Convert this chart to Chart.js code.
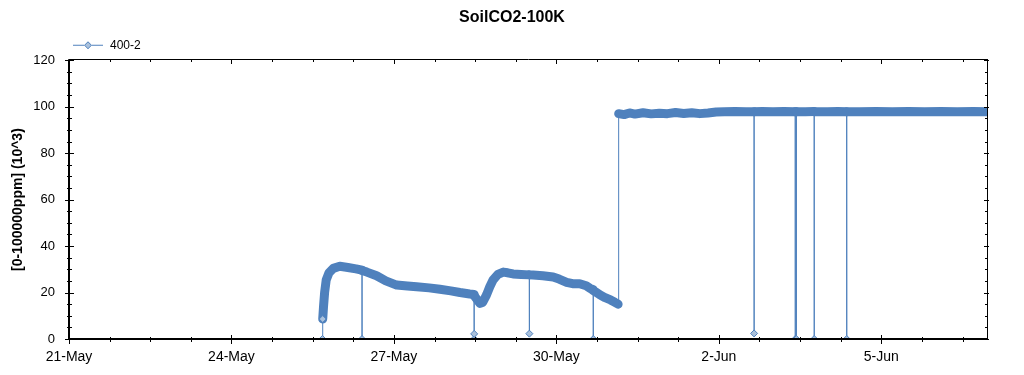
<!DOCTYPE html>
<html><head><meta charset="utf-8">
<script src="https://cdn.jsdelivr.net/npm/chart.js@4/dist/chart.umd.min.js"></script>
<style>html,body{margin:0;padding:0;background:#fff;}#wrap{width:1024px;height:375px;}</style>
</head><body><div id="wrap"><canvas id="c" width="1024" height="375"></canvas></div>
<script>
// ---- data ----
const chartTitle = 'SoilCO2-100K';
const seriesName = '400-2';
const yAxisTitle = '[0-100000ppm] (10^3)';
const xTickDays = [0, 3, 6, 9, 12, 15];            // days after 21-May
const xTickLabels = ['21-May', '24-May', '27-May', '30-May', '2-Jun', '5-Jun'];
const yTickValues = [0, 20, 40, 60, 80, 100, 120];
// time of each reading, in days after 21-May 00:00
const timeDays = [
  4.68, 4.685, 4.70, 4.72, 4.75, 4.80, 4.88, 5.00, 5.15, 5.30,
  5.41, 5.411, 5.412, 5.50, 5.68, 5.85, 6.05, 6.25, 6.42, 6.65,
  6.85, 7.05, 7.22, 7.40, 7.48, 7.481, 7.482, 7.483, 7.55, 7.59,
  7.64, 7.71, 7.77, 7.83, 7.92, 8.02, 8.10, 8.20, 8.35, 8.50,
  8.501, 8.502, 8.57, 8.75, 8.94, 9.05, 9.19, 9.30, 9.43, 9.55,
  9.62, 9.68, 9.681, 9.682, 9.72, 9.81, 9.90, 10.00, 10.08, 10.14,
  10.15, 10.25, 10.35, 10.45, 10.60, 10.75, 10.90, 11.05, 11.20, 11.35,
  11.50, 11.65, 11.80, 11.95, 12.10, 12.30, 12.50, 12.65, 12.651, 12.652,
  12.80, 13.00, 13.20, 13.41, 13.411, 13.412, 13.43, 13.431, 13.432, 13.60,
  13.76, 13.761, 13.762, 14.00, 14.20, 14.36, 14.361, 14.362, 14.60, 14.90,
  15.20, 15.50, 15.80, 16.10, 16.40, 16.70, 16.97
];
// CO2 reading, in 10^3 ppm
const co2Values = [
  0, 8.6, 14.0, 20.0, 25.5, 28.5, 30.4, 31.3, 30.8, 30.2,
  29.6, 0, 29.5, 28.8, 27.2, 25.0, 23.2, 22.8, 22.5, 22.0,
  21.4, 20.7, 20.0, 19.4, 19.2, 0, 2.2, 18.6, 16.5, 15.3,
  15.8, 19.0, 22.5, 25.4, 27.8, 28.8, 28.5, 28.0, 27.8, 27.6,
  2.3, 27.6, 27.5, 27.2, 26.7, 25.8, 24.4, 23.8, 23.8, 22.9,
  21.8, 21.2, 0, 20.8, 20.3, 18.9, 17.8, 16.8, 15.8, 15.0,
  97.0, 96.6, 97.3, 96.8, 97.4, 96.9, 97.2, 97.0, 97.5, 97.1,
  97.4, 97.0, 97.3, 97.7, 97.8, 97.9, 97.8, 97.8, 2.4, 97.8,
  97.9, 97.8, 97.9, 97.8, 0, 97.8, 97.8, 0, 97.8, 97.8,
  97.9, 0, 97.8, 97.8, 97.9, 97.8, 0, 97.8, 97.8, 97.9,
  97.8, 97.9, 97.8, 97.9, 97.8, 97.9, 97.8
];
const xMaxDays = 16.97;

// ---- style ----
const LINE = '#4f81bd';
const MARK = '#aac1dc';
const FONT = '"Liberation Sans", Arial, sans-serif';
Chart.defaults.font.family = FONT;
Chart.defaults.color = '#000';

// legend symbol: line with diamond
const lc = document.createElement('canvas');
lc.width = 30; lc.height = 9;
(function () {
  const g = lc.getContext('2d');
  g.strokeStyle = LINE; g.lineWidth = 1;
  g.beginPath(); g.moveTo(0, 4.5); g.lineTo(30, 4.5); g.stroke();
  g.beginPath(); g.moveTo(11.5, 4.5); g.lineTo(15, 1); g.lineTo(18.5, 4.5); g.lineTo(15, 8); g.closePath();
  g.fillStyle = MARK; g.fill(); g.stroke();
})();

const frame = {
  id: 'frame',
  beforeInit(chart) {
    const lg = chart.legend;
    if (lg) { const f = lg.fit; lg.fit = function () { f.call(this); this.height = 24; }; }
  },
  afterDraw(chart) {
    const {ctx, chartArea: a, scales: {x, y}} = chart;
    ctx.save();
    ctx.strokeStyle = '#000';
    ctx.lineWidth = 1;
    ctx.beginPath();
    ctx.moveTo(a.left, Math.round(a.top) - 0.5); ctx.lineTo(a.right, Math.round(a.top) - 0.5);
    ctx.moveTo(Math.round(a.right) - 0.5, a.top); ctx.lineTo(Math.round(a.right) - 0.5, a.bottom);
    ctx.stroke();
    ctx.lineWidth = 2;
    ctx.beginPath();
    ctx.moveTo(Math.round(a.left), a.top - 1); ctx.lineTo(Math.round(a.left), a.bottom + 1);
    ctx.moveTo(a.left - 1, Math.round(a.bottom)); ctx.lineTo(a.right, Math.round(a.bottom));
    ctx.stroke();
    ctx.lineWidth = 1;
    ctx.beginPath();
    for (let v = 0; v <= 120; v += 5) {
      const p = Math.round(y.getPixelForValue(v)) + 0.5;
      const major = v % 20 === 0;
      const L = Math.round(a.left), R = Math.round(a.right);
      if (major) { ctx.moveTo(L - 4, p); ctx.lineTo(L + 5, p); ctx.moveTo(R - 4, p); ctx.lineTo(R + 1, p); }
      else { ctx.moveTo(L - 2, p); ctx.lineTo(L + 3, p); ctx.moveTo(R - 3, p); ctx.lineTo(R, p); }
    }
    for (let k = 0; k * 0.75 <= xMaxDays; k++) {
      const d = k * 0.75;
      const p = Math.round(x.getPixelForValue(d)) + 0.5;
      const major = k % 4 === 0;
      const B = Math.round(a.bottom), T = Math.round(a.top);
      if (major) { ctx.moveTo(p, B - 4); ctx.lineTo(p, B + 5); ctx.moveTo(p, T); ctx.lineTo(p, T + 4); }
      else { ctx.moveTo(p, B - 2); ctx.lineTo(p, B + 3); ctx.moveTo(p, T); ctx.lineTo(p, T + 2); }
    }
    ctx.stroke();
    ctx.restore();
  }
};

new Chart(document.getElementById('c'), {
  type: 'line',
  data: {
    datasets: [{
      label: seriesName,
      data: timeDays.map((t, i) => ({x: t, y: co2Values[i]})),
      borderColor: LINE,
      backgroundColor: MARK,
      borderWidth: 9,
      borderCapStyle: 'round',
      borderJoinStyle: 'round',
      tension: 0,
      clip: 0,
      pointStyle: 'rectRot',
      pointRadius: c => (c.raw && c.raw.y < 10) ? 3.5 : 0,
      pointBorderWidth: 1,
      pointBorderColor: LINE,
      pointBackgroundColor: MARK,
      segment: {
        borderWidth: c => (c.p0.parsed.y < 5 || c.p1.parsed.y < 5 || Math.abs(c.p0.parsed.y - c.p1.parsed.y) > 30) ? 1 : 9
      }
    }]
  },
  options: {
    responsive: false,
    devicePixelRatio: 1,
    animation: false,
    events: [],
    layout: {padding: 0},
    plugins: {
      title: {display: true, text: chartTitle, color: '#000', font: {size: 16, weight: 'bold'}, padding: {top: 8, bottom: 9}},
      legend: {
        position: 'top', align: 'start', fullSize: false,
        labels: {usePointStyle: true, pointStyle: lc, pointStyleWidth: 32, padding: 3, color: '#000', font: {size: 12}}
      },
      tooltip: {enabled: false}
    },
    scales: {
      x: {
        type: 'linear', min: 0, max: xMaxDays,
        afterBuildTicks: s => { s.ticks = xTickDays.map(v => ({value: v})); },
        afterFit: s => { s.height = 36; },
        grid: {display: false, drawTicks: false}, border: {display: false},
        ticks: {autoSkip: false, maxRotation: 0, padding: 10, color: '#000', font: {size: 14},
          callback: v => xTickLabels[xTickDays.indexOf(v)]}
      },
      y: {
        min: 0, max: 120,
        afterBuildTicks: s => { s.ticks = yTickValues.map(v => ({value: v})); },
        afterFit: s => { s.width = 69; },
        grid: {display: false, drawTicks: false}, border: {display: false},
        ticks: {padding: 14, color: '#000', font: {size: 13}},
        title: {display: true, text: yAxisTitle, color: '#000', font: {size: 14, weight: 'bold'}, padding: {top: 10, bottom: 0}}
      },
      yRight: {
        type: 'linear', position: 'right', display: true, min: 0, max: 1,
        afterFit: s => { s.width = 36; },
        grid: {display: false, drawTicks: false}, border: {display: false},
        ticks: {display: false}
      }
    }
  },
  plugins: [frame]
});
</script></body></html>
